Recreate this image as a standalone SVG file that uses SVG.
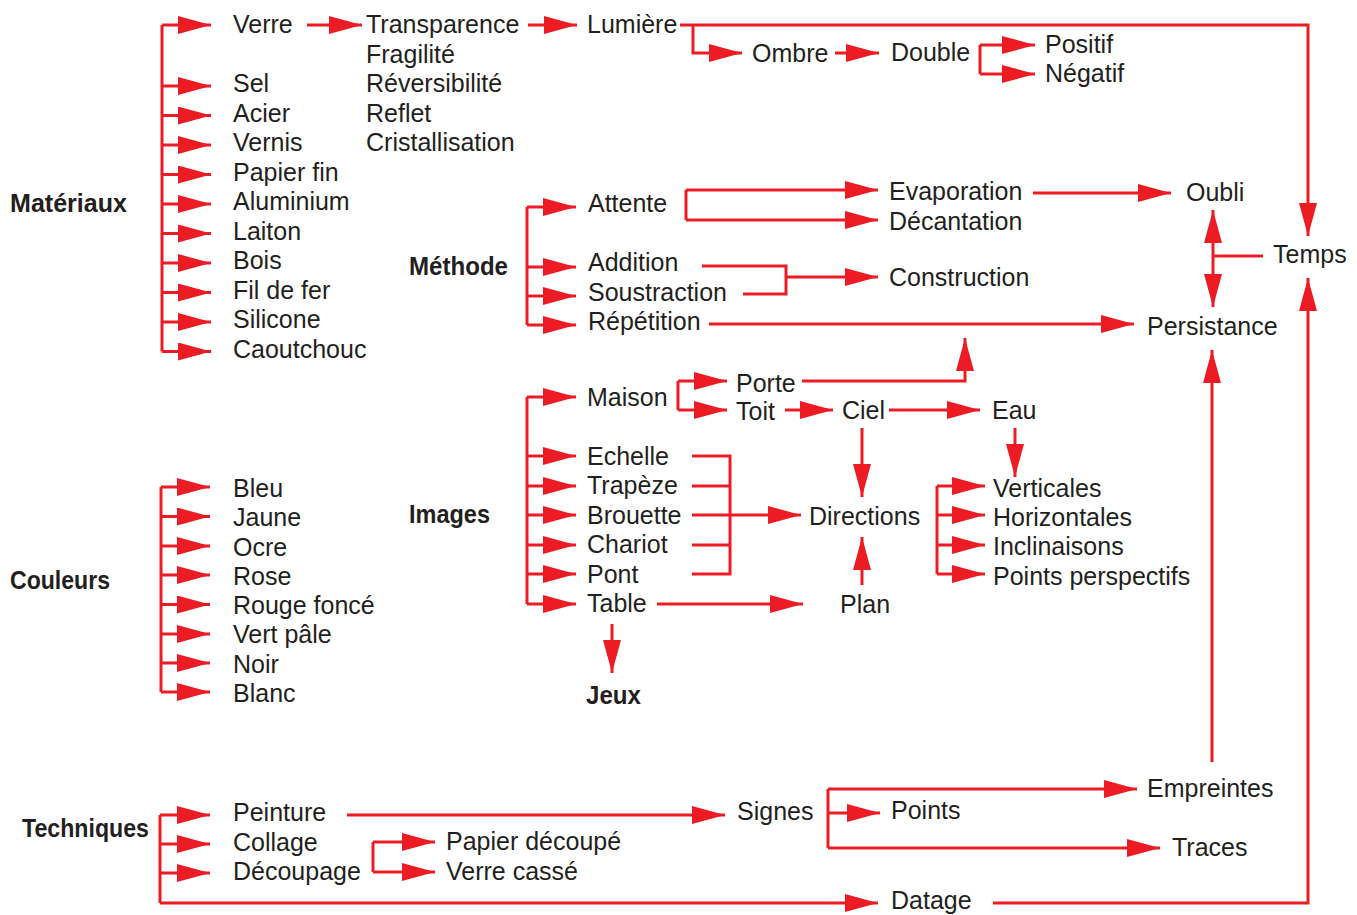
<svg xmlns="http://www.w3.org/2000/svg" width="1357" height="915" viewBox="0 0 1357 915">
<style>
text{font-family:"Liberation Sans",Arial,sans-serif;font-size:25px;fill:#231f20}
text.b{font-weight:bold;font-size:25px}
.c path{fill:none;stroke:#ed1c24;stroke-width:3}
</style>
<defs>
<marker id="a" markerUnits="userSpaceOnUse" markerWidth="34" markerHeight="18" refX="33" refY="9" orient="auto-start-reverse"><path d="M0,0L33,9L0,18Z" fill="#ed1c24"/></marker>
</defs>
<rect width="1357" height="915" fill="#fff"/>
<g class="c" id="connectors">
<path d="M162,25V351.5"/>
<path d="M162,25H211" marker-end="url(#a)"/>
<path d="M162,86H211" marker-end="url(#a)"/>
<path d="M162,115.5H211" marker-end="url(#a)"/>
<path d="M162,145H211" marker-end="url(#a)"/>
<path d="M162,174.5H211" marker-end="url(#a)"/>
<path d="M162,204H211" marker-end="url(#a)"/>
<path d="M162,233.5H211" marker-end="url(#a)"/>
<path d="M162,263H211" marker-end="url(#a)"/>
<path d="M162,292.5H211" marker-end="url(#a)"/>
<path d="M162,322H211" marker-end="url(#a)"/>
<path d="M162,351.5H211" marker-end="url(#a)"/>
<path d="M307,25H362" marker-end="url(#a)"/>
<path d="M528,25H577" marker-end="url(#a)"/>
<path d="M680,25H1308V236" marker-end="url(#a)"/>
<path d="M693,25V53H742" marker-end="url(#a)"/>
<path d="M835,53H879" marker-end="url(#a)"/>
<path d="M980,45V74"/>
<path d="M980,45H1035" marker-end="url(#a)"/>
<path d="M980,74H1035" marker-end="url(#a)"/>
<path d="M527,207V325"/>
<path d="M527,207H576" marker-end="url(#a)"/>
<path d="M527,267H576" marker-end="url(#a)"/>
<path d="M527,296H576" marker-end="url(#a)"/>
<path d="M527,325H576" marker-end="url(#a)"/>
<path d="M686,190V220"/>
<path d="M686,190H878" marker-end="url(#a)"/>
<path d="M686,220H878" marker-end="url(#a)"/>
<path d="M702,266H786V294H743"/>
<path d="M786,277H878" marker-end="url(#a)"/>
<path d="M709,324H1134" marker-end="url(#a)"/>
<path d="M1033,193H1171" marker-end="url(#a)"/>
<path d="M1213,210V307" marker-start="url(#a)" marker-end="url(#a)"/>
<path d="M1263,256H1213"/>
<path d="M993,903H1308V278" marker-end="url(#a)"/>
<path d="M1212,762V350" marker-end="url(#a)"/>
<path d="M527,397V604"/>
<path d="M527,397H576" marker-end="url(#a)"/>
<path d="M527,456H576" marker-end="url(#a)"/>
<path d="M527,486H576" marker-end="url(#a)"/>
<path d="M527,515H576" marker-end="url(#a)"/>
<path d="M527,545H576" marker-end="url(#a)"/>
<path d="M527,574H576" marker-end="url(#a)"/>
<path d="M527,604H576" marker-end="url(#a)"/>
<path d="M678,381V410"/>
<path d="M678,381H727" marker-end="url(#a)"/>
<path d="M678,410H727" marker-end="url(#a)"/>
<path d="M802,381H965V338" marker-end="url(#a)"/>
<path d="M785,410H833" marker-end="url(#a)"/>
<path d="M889,410H980" marker-end="url(#a)"/>
<path d="M862,428V497" marker-end="url(#a)"/>
<path d="M1015,428V477" marker-end="url(#a)"/>
<path d="M692,456H730V574H692M692,486H730M692,545H730"/>
<path d="M692,515H801" marker-end="url(#a)"/>
<path d="M862,585V537" marker-end="url(#a)"/>
<path d="M657,604H803" marker-end="url(#a)"/>
<path d="M612,624V673" marker-end="url(#a)"/>
<path d="M937,486V574"/>
<path d="M937,486H985" marker-end="url(#a)"/>
<path d="M937,515H985" marker-end="url(#a)"/>
<path d="M937,545H985" marker-end="url(#a)"/>
<path d="M937,574H985" marker-end="url(#a)"/>
<path d="M161,487V692"/>
<path d="M161,487H210" marker-end="url(#a)"/>
<path d="M161,516.5H210" marker-end="url(#a)"/>
<path d="M161,546H210" marker-end="url(#a)"/>
<path d="M161,575H210" marker-end="url(#a)"/>
<path d="M161,604.5H210" marker-end="url(#a)"/>
<path d="M161,634H210" marker-end="url(#a)"/>
<path d="M161,663H210" marker-end="url(#a)"/>
<path d="M161,692H210" marker-end="url(#a)"/>
<path d="M160,815V903"/>
<path d="M160,815H210" marker-end="url(#a)"/>
<path d="M160,844H210" marker-end="url(#a)"/>
<path d="M160,873H210" marker-end="url(#a)"/>
<path d="M160,903H878" marker-end="url(#a)"/>
<path d="M347,815H725" marker-end="url(#a)"/>
<path d="M373,842V872"/>
<path d="M373,842H435" marker-end="url(#a)"/>
<path d="M373,872H435" marker-end="url(#a)"/>
<path d="M828,789V848"/>
<path d="M828,789H1137" marker-end="url(#a)"/>
<path d="M828,813H880" marker-end="url(#a)"/>
<path d="M828,848H1160" marker-end="url(#a)"/>
</g>
<g id="n-materiaux"><text class="b" x="10" y="212" textLength="117" lengthAdjust="spacingAndGlyphs">Matériaux</text></g>
<g id="n-verre"><text x="233" y="33">Verre</text></g>
<g id="n-sel"><text x="233" y="92">Sel</text></g>
<g id="n-acier"><text x="233" y="122">Acier</text></g>
<g id="n-vernis"><text x="233" y="151">Vernis</text></g>
<g id="n-papierfin"><text x="233" y="181">Papier fin</text></g>
<g id="n-aluminium"><text x="233" y="210">Aluminium</text></g>
<g id="n-laiton"><text x="233" y="240">Laiton</text></g>
<g id="n-bois"><text x="233" y="269">Bois</text></g>
<g id="n-fildefer"><text x="233" y="299">Fil de fer</text></g>
<g id="n-silicone"><text x="233" y="328">Silicone</text></g>
<g id="n-caoutchouc"><text x="233" y="358">Caoutchouc</text></g>
<g id="n-proprietes"><text x="366" y="33">Transparence</text><text x="366" y="62.5">Fragilité</text><text x="366" y="92">Réversibilité</text><text x="366" y="121.5">Reflet</text><text x="366" y="151">Cristallisation</text></g>
<g id="n-lumiere"><text x="587" y="33">Lumière</text></g>
<g id="n-ombre"><text x="752" y="62">Ombre</text></g>
<g id="n-double"><text x="891" y="61">Double</text></g>
<g id="n-positif"><text x="1045" y="53">Positif</text></g>
<g id="n-negatif"><text x="1045" y="82">Négatif</text></g>
<g id="n-methode"><text class="b" x="409" y="275" textLength="99" lengthAdjust="spacingAndGlyphs">Méthode</text></g>
<g id="n-attente"><text x="588" y="212">Attente</text></g>
<g id="n-addition"><text x="588" y="271">Addition</text></g>
<g id="n-soustraction"><text x="588" y="301">Soustraction</text></g>
<g id="n-repetition"><text x="588" y="330">Répétition</text></g>
<g id="n-evaporation"><text x="889" y="200">Evaporation</text></g>
<g id="n-decantation"><text x="889" y="230">Décantation</text></g>
<g id="n-construction"><text x="889" y="286">Construction</text></g>
<g id="n-oubli"><text x="1186" y="201">Oubli</text></g>
<g id="n-temps"><text x="1273" y="263">Temps</text></g>
<g id="n-persistance"><text x="1147" y="335">Persistance</text></g>
<g id="n-images"><text class="b" x="409" y="523" textLength="81" lengthAdjust="spacingAndGlyphs">Images</text></g>
<g id="n-maison"><text x="587" y="406">Maison</text></g>
<g id="n-porte"><text x="736" y="392">Porte</text></g>
<g id="n-toit"><text x="736" y="420">Toit</text></g>
<g id="n-ciel"><text x="842" y="419">Ciel</text></g>
<g id="n-eau"><text x="992" y="419">Eau</text></g>
<g id="n-echelle"><text x="587" y="465">Echelle</text></g>
<g id="n-trapeze"><text x="587" y="494">Trapèze</text></g>
<g id="n-brouette"><text x="587" y="524">Brouette</text></g>
<g id="n-chariot"><text x="587" y="553">Chariot</text></g>
<g id="n-pont"><text x="587" y="583">Pont</text></g>
<g id="n-table"><text x="587" y="612">Table</text></g>
<g id="n-jeux"><text class="b" x="586" y="704" textLength="55" lengthAdjust="spacingAndGlyphs">Jeux</text></g>
<g id="n-directions"><text x="809" y="525">Directions</text></g>
<g id="n-plan"><text x="840" y="613">Plan</text></g>
<g id="n-verticales"><text x="993" y="497">Verticales</text></g>
<g id="n-horizontales"><text x="993" y="526">Horizontales</text></g>
<g id="n-inclinaisons"><text x="993" y="555">Inclinaisons</text></g>
<g id="n-pointsperspectifs"><text x="993" y="585">Points perspectifs</text></g>
<g id="n-couleurs"><text class="b" x="10" y="589" textLength="100" lengthAdjust="spacingAndGlyphs">Couleurs</text></g>
<g id="n-bleu"><text x="233" y="497">Bleu</text></g>
<g id="n-jaune"><text x="233" y="526">Jaune</text></g>
<g id="n-ocre"><text x="233" y="556">Ocre</text></g>
<g id="n-rose"><text x="233" y="585">Rose</text></g>
<g id="n-rougefonce"><text x="233" y="614">Rouge foncé</text></g>
<g id="n-vertpale"><text x="233" y="643">Vert pâle</text></g>
<g id="n-noir"><text x="233" y="673">Noir</text></g>
<g id="n-blanc"><text x="233" y="702">Blanc</text></g>
<g id="n-techniques"><text class="b" x="22" y="837" textLength="127" lengthAdjust="spacingAndGlyphs">Techniques</text></g>
<g id="n-peinture"><text x="233" y="821">Peinture</text></g>
<g id="n-collage"><text x="233" y="851">Collage</text></g>
<g id="n-decoupage"><text x="233" y="880">Découpage</text></g>
<g id="n-papierdecoupe"><text x="446" y="850">Papier découpé</text></g>
<g id="n-verrecasse"><text x="446" y="880">Verre cassé</text></g>
<g id="n-signes"><text x="737" y="820">Signes</text></g>
<g id="n-points"><text x="891" y="819">Points</text></g>
<g id="n-empreintes"><text x="1147" y="797">Empreintes</text></g>
<g id="n-traces"><text x="1172" y="856">Traces</text></g>
<g id="n-datage"><text x="891" y="909">Datage</text></g>
</svg>
